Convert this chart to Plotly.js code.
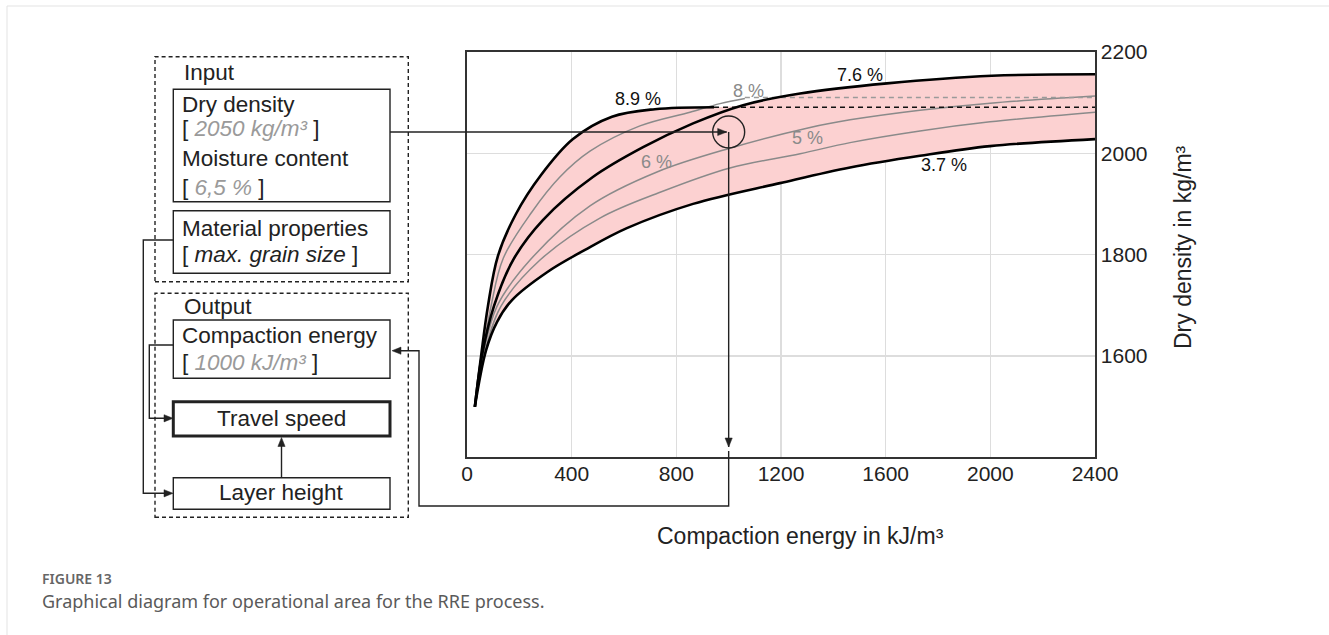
<!DOCTYPE html>
<html>
<head>
<meta charset="utf-8">
<script src="https://cdn.plot.ly/plotly-3.0.1.min.js"></script>
<style>
  html, body { margin: 0; padding: 0; background: #ffffff; }
  #chart { width: 1329px; height: 635px; }
</style>
</head>
<body>
<div id="chart"></div>
<script>
// ---------------- DATA ----------------
// Compaction curves: compaction energy (kJ/m3) -> dry density (kg/m3)
const energy89  = [30, 54, 80, 118, 187, 283, 405, 554, 718, 944];
const density89 = [1499, 1600, 1698, 1797, 1880, 1957, 2028, 2072, 2087, 2091];

const energy80  = [30, 59, 92, 139, 248, 355, 470, 661, 852, 967, 1062];
const density80 = [1499, 1600, 1698, 1793, 1884, 1953, 2004, 2054, 2081, 2098, 2108];

const energy76  = [30, 57, 103, 176, 290, 481, 673, 864, 1055, 1273, 1605, 2006, 2400];
const density76 = [1499, 1600, 1698, 1789, 1868, 1953, 2012, 2059, 2095, 2118, 2138, 2153, 2156];

const energy60  = [30, 61, 115, 241, 470, 726, 1005, 1303, 1464, 1731, 1999, 2400];
const density60 = [1499, 1600, 1698, 1789, 1896, 1963, 2010, 2050, 2066, 2085, 2099, 2113];

const energy50  = [30, 65, 130, 279, 508, 738, 1005, 1273, 1464, 1731, 1999, 2400];
const density50 = [1499, 1600, 1698, 1789, 1872, 1923, 1971, 1999, 2021, 2044, 2062, 2081];

const energy37  = [30, 73, 115, 172, 306, 451, 611, 864, 1196, 1464, 1731, 1999, 2400];
const density37 = [1499, 1611, 1667, 1710, 1765, 1809, 1852, 1900, 1941, 1972, 1995, 2014, 2028];

// plateaus (dashed) of the 8.9 % and 8 % curves
const plateau89Energy  = [944, 2400];
const plateau89Density = [2091, 2091];
const plateau80Energy  = [1062, 2400];
const plateau80Density = [2110, 2110];

// curve labels
const curveLabels  = ['8.9 %', '8 %', '7.6 %', '6 %', '5 %', '3.7 %'];
const curveLabelE  = [653, 1074, 1502, 725, 1303, 1823];
const curveLabelD  = [2107, 2123, 2155, 1983, 2031, 1977];

// operating point
const targetEnergy  = 1000;
const targetDensity = 2042;

// axis ticks
const xTicks = [0, 400, 800, 1200, 1600, 2000, 2400];
const yTicks = [1600, 1800, 2000, 2200];

// ---------------- LAYOUT HELPERS ----------------
const W = 1329, H = 635;
const PL = 467, PR = 1095, PT = 52, PB = 457;
const XR = [0, 2400], YR = [1400, 2200];
const px2x = p => (p - PL) / (PR - PL);
const py2y = p => (PB - p) / (PB - PT);
const e2px = e => PL + (e - XR[0]) / (XR[1] - XR[0]) * (PR - PL);
const d2py = d => PB - (d - YR[0]) / (YR[1] - YR[0]) * (PB - PT);

const INK = '#222222';
const FONT = 'Liberation Sans, Arial, Helvetica, sans-serif';
const BOXFONT = 22.5;

function rectPx(x0, y0, x1, y1, width, dash) {
  return { type: 'rect', xref: 'paper', yref: 'paper', layer: 'above',
    x0: px2x(x0), x1: px2x(x1), y0: py2y(y1), y1: py2y(y0),
    line: { color: INK, width: width, dash: dash || 'solid' } };
}
function pathPx(pts, width, dash) {
  const d = pts.map((p, i) => (i ? 'L' : 'M') + px2x(p[0]).toFixed(5) + ',' + py2y(p[1]).toFixed(5)).join(' ');
  return { type: 'path', xref: 'paper', yref: 'paper', layer: 'above', path: d,
    line: { color: INK, width: width, dash: dash || 'solid' } };
}
function headPx(tx, ty, dir) {
  const L = 9, Hw = 3.6;
  let pts;
  if (dir === 'right') pts = [[tx, ty], [tx - L, ty - Hw], [tx - L, ty + Hw]];
  if (dir === 'left')  pts = [[tx, ty], [tx + L, ty - Hw], [tx + L, ty + Hw]];
  if (dir === 'down')  pts = [[tx, ty], [tx - Hw, ty - L], [tx + Hw, ty - L]];
  if (dir === 'up')    pts = [[tx, ty], [tx - Hw, ty + L], [tx + Hw, ty + L]];
  const d = pts.map((p, i) => (i ? 'L' : 'M') + px2x(p[0]).toFixed(5) + ',' + py2y(p[1]).toFixed(5)).join(' ') + ' Z';
  return { type: 'path', xref: 'paper', yref: 'paper', layer: 'above', path: d,
    fillcolor: INK, line: { color: INK, width: 0.5 } };
}
function textPx(x, y, text, opts) {
  return Object.assign({ xref: 'paper', yref: 'paper', x: px2x(x), y: py2y(y),
    xanchor: 'left', yanchor: 'middle', showarrow: false, text: text,
    font: { family: FONT, size: BOXFONT, color: INK } }, opts || {});
}

// ---------------- TRACES ----------------
const base = { type: 'scatter', mode: 'lines', hoverinfo: 'skip', showlegend: false };
const sp = { shape: 'spline', smoothing: 1 };

// operating band (pink): lower = 3.7 %, upper = 8.9 % then 7.6 %
const lastE89 = energy89[energy89.length - 1];
const upperE = energy89.concat(energy76.filter(e => e > lastE89));
const upperD = density89.concat(density76.filter((d, i) => energy76[i] > lastE89));

const traces = [
  Object.assign({}, base, { x: energy37, y: density37, line: Object.assign({ width: 0, color: 'rgba(0,0,0,0)' }, sp) }),
  Object.assign({}, base, { x: upperE, y: upperD, fill: 'tonexty', fillcolor: '#fcd1d1',
    line: Object.assign({ width: 0, color: 'rgba(0,0,0,0)' }, sp) }),
  // gray curves
  Object.assign({}, base, { x: energy80, y: density80, line: Object.assign({ width: 1.5, color: '#8a8a8a' }, sp) }),
  Object.assign({}, base, { x: energy60, y: density60, line: Object.assign({ width: 1.5, color: '#8a8a8a' }, sp) }),
  Object.assign({}, base, { x: energy50, y: density50, line: Object.assign({ width: 1.5, color: '#8a8a8a' }, sp) }),
  Object.assign({}, base, { x: plateau80Energy, y: plateau80Density, line: { width: 1.5, color: '#9a9a9a', dash: '5px,4px' } }),
  Object.assign({}, base, { x: plateau89Energy, y: plateau89Density, line: { width: 1.6, color: '#111111', dash: '5px,4px' } }),
  // black curves
  Object.assign({}, base, { x: energy89, y: density89, line: Object.assign({ width: 2.6, color: '#000000' }, sp) }),
  Object.assign({}, base, { x: energy76, y: density76, line: Object.assign({ width: 2.6, color: '#000000' }, sp) }),
  Object.assign({}, base, { x: energy37, y: density37, line: Object.assign({ width: 2.6, color: '#000000' }, sp) })
];

// ---------------- ANNOTATIONS ----------------
const labelColors = ['#111', '#8a8a8a', '#111', '#8a8a8a', '#8a8a8a', '#111'];
const annotations = curveLabels.map((t, i) => ({
  xref: 'x', yref: 'y', x: curveLabelE[i], y: curveLabelD[i], text: t, showarrow: false,
  xanchor: 'center', yanchor: 'middle', font: { family: FONT, size: 18, color: labelColors[i] }
}));

const G = s => '<i><span style="color:#9a9a9a">' + s + '</span></i>';
annotations.push(
  textPx(182, 73, 'Input'),
  textPx(180, 104.5, 'Dry density'),
  textPx(180, 128.5, '[ ' + G('2050 kg/m³') + ' ]'),
  textPx(180, 158, 'Moisture content'),
  textPx(180, 187, '[ ' + G('6,5 %') + ' ]'),
  textPx(180, 229, 'Material properties'),
  textPx(180, 254, '[ <i>max. grain size</i> ]'),
  textPx(182, 306, 'Output'),
  textPx(180, 335.5, 'Compaction energy'),
  textPx(180, 362, '[ ' + G('1000 kJ/m³') + ' ]'),
  textPx(281.5, 418.5, 'Travel speed', { xanchor: 'center' }),
  textPx(281.5, 492, 'Layer height', { xanchor: 'center' }),
  // axis titles
  textPx(800, 536, 'Compaction energy in kJ/m³', { xanchor: 'center', font: { family: FONT, size: 23, color: INK } }),
  textPx(1183, 247, 'Dry density in kg/m³', { xanchor: 'center', textangle: -90, font: { family: FONT, size: 23, color: INK } }),
  // caption
  textPx(40, 578, 'FIGURE 13', { font: { family: 'Noto Sans, sans-serif', size: 14, color: '#666666', weight: 600 } }),
  textPx(40, 601, 'Graphical diagram for operational area for the RRE process.', { font: { family: 'Noto Sans, sans-serif', size: 18, color: '#5a5a5a' } })
);

// ---------------- SHAPES ----------------
const tx = e2px(targetEnergy), ty = d2py(targetDensity);
const R = 16;
const shapes = [
  // card border
  { type: 'line', xref: 'paper', yref: 'paper', x0: px2x(7), x1: px2x(W), y0: py2y(6), y1: py2y(6), line: { color: '#e3e3e3', width: 1 } },
  { type: 'line', xref: 'paper', yref: 'paper', x0: px2x(7), x1: px2x(7), y0: py2y(6), y1: py2y(H), line: { color: '#e3e3e3', width: 1 } },
  // input / output groups
  rectPx(155, 56.7, 408.3, 281.7, 1.4, '4px,3px'),
  rectPx(155, 293.3, 408.3, 517.3, 1.4, '4px,3px'),
  rectPx(173.3, 89.3, 390, 201.7, 1.4),
  rectPx(173.3, 210.7, 390, 273.3, 1.4),
  rectPx(173.3, 320, 390, 378.3, 1.4),
  rectPx(173.3, 401.7, 390, 436, 3),
  rectPx(173.3, 477.7, 390, 509.3, 1.4),
  // arrow: dry density -> chart
  pathPx([[390, ty], [tx - 2, ty]], 1.4), headPx(tx - 2, ty, 'right'),
  // circle around the operating point
  { type: 'circle', xref: 'paper', yref: 'paper', layer: 'above',
    x0: px2x(tx - R), x1: px2x(tx + R), y0: py2y(ty + R), y1: py2y(ty - R),
    line: { color: INK, width: 1.4 } },
  // arrow: operating point down to energy axis
  pathPx([[tx, ty], [tx, PB - 10]], 1.4), headPx(tx, PB - 10, 'down'),
  pathPx([[tx, PB - 6], [tx, 506], [419, 506], [419, 350.7], [400, 350.7]], 1.4), headPx(392, 350.7, 'left'),
  // compaction energy -> travel speed
  pathPx([[173.3, 345], [149.3, 345], [149.3, 418.3], [165, 418.3]], 1.4), headPx(173, 418.3, 'right'),
  // material properties -> layer height
  pathPx([[173.3, 240], [143.3, 240], [143.3, 493.3], [165, 493.3]], 1.4), headPx(173, 493.3, 'right'),
  // layer height -> travel speed
  pathPx([[281.5, 477.7], [281.5, 445]], 1.4), headPx(281.5, 437.5, 'up')
];

// ---------------- LAYOUT ----------------
const layout = {
  width: W, height: H,
  margin: { l: PL, r: W - PR, t: PT, b: H - PB, pad: 0 },
  paper_bgcolor: '#ffffff', plot_bgcolor: '#ffffff',
  font: { family: FONT, color: INK, size: 21 },
  xaxis: {
    range: XR, tickvals: xTicks, ticktext: xTicks.map(String),
    showgrid: true, gridcolor: '#dddddd', gridwidth: 1.5,
    showline: true, linecolor: '#333333', linewidth: 1.6, mirror: true,
    zeroline: false, ticks: '', ticklabelstandoff: -3,
    tickfont: { family: FONT, size: 21, color: INK }, fixedrange: true
  },
  yaxis: {
    range: YR, side: 'right', tickvals: yTicks, ticktext: yTicks.map(String),
    showgrid: true, gridcolor: '#dddddd', gridwidth: 1.5,
    showline: true, linecolor: '#333333', linewidth: 1.6, mirror: true,
    zeroline: false, ticks: '', tickfont: { family: FONT, size: 21, color: INK }, fixedrange: true
  },
  showlegend: false,
  annotations: annotations,
  shapes: shapes
};

Plotly.newPlot('chart', traces, layout, { displayModeBar: false, staticPlot: true });
</script>
</body>
</html>
